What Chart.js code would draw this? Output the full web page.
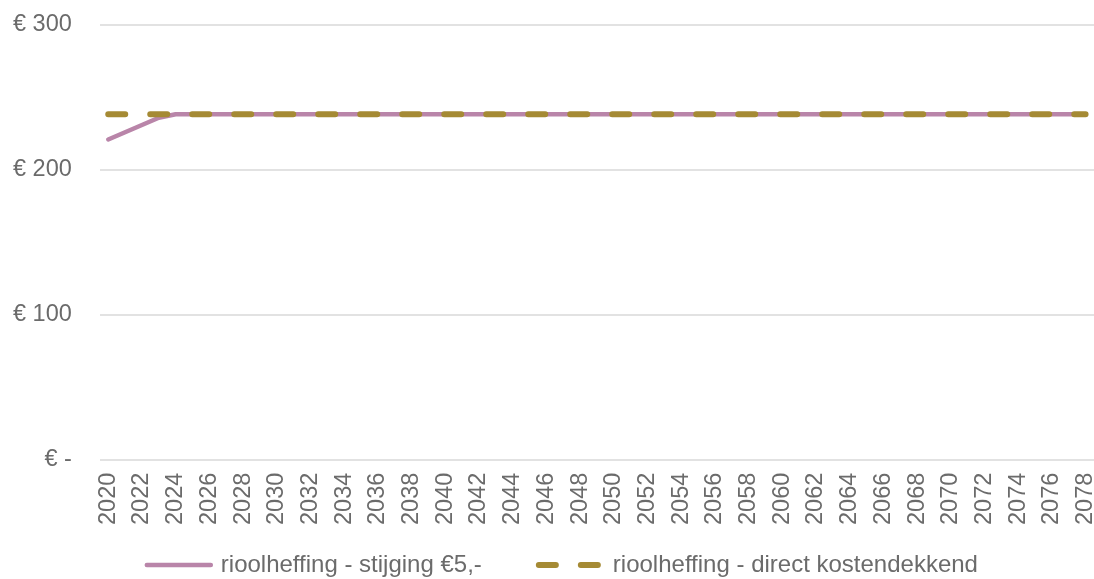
<!DOCTYPE html>
<html>
<head>
<meta charset="utf-8">
<title>Rioolheffing</title>
<script src="https://cdn.jsdelivr.net/npm/chart.js@4.4.1/dist/chart.umd.min.js"></script>
<style>
  html, body { margin: 0; padding: 0; background: #ffffff; }
  #wrap { width: 1094px; height: 579px; position: relative; }
</style>
</head>
<body>
<div id="wrap"><canvas id="chart"></canvas></div>
<script>
// Jaren op de categorie-as
const years = [
  '2020','2021','2022','2023','2024','2025','2026','2027','2028','2029',
  '2030','2031','2032','2033','2034','2035','2036','2037','2038','2039',
  '2040','2041','2042','2043','2044','2045','2046','2047','2048','2049',
  '2050','2051','2052','2053','2054','2055','2056','2057','2058','2059',
  '2060','2061','2062','2063','2064','2065','2066','2067','2068','2069',
  '2070','2071','2072','2073','2074','2075','2076','2077','2078'
];

// Rioolheffing (euro per jaar) bij een jaarlijkse stijging van €5,-
const stijging = [
  221, 226, 231, 236, 238.4, 238.4, 238.4, 238.4, 238.4, 238.4,
  238.4, 238.4, 238.4, 238.4, 238.4, 238.4, 238.4, 238.4, 238.4, 238.4,
  238.4, 238.4, 238.4, 238.4, 238.4, 238.4, 238.4, 238.4, 238.4, 238.4,
  238.4, 238.4, 238.4, 238.4, 238.4, 238.4, 238.4, 238.4, 238.4, 238.4,
  238.4, 238.4, 238.4, 238.4, 238.4, 238.4, 238.4, 238.4, 238.4, 238.4,
  238.4, 238.4, 238.4, 238.4, 238.4, 238.4, 238.4, 238.4, 238.4
];

// Rioolheffing (euro per jaar) wanneer direct kostendekkend
const kostendekkend = [
  238.4, 238.4, 238.4, 238.4, 238.4, 238.4, 238.4, 238.4, 238.4, 238.4,
  238.4, 238.4, 238.4, 238.4, 238.4, 238.4, 238.4, 238.4, 238.4, 238.4,
  238.4, 238.4, 238.4, 238.4, 238.4, 238.4, 238.4, 238.4, 238.4, 238.4,
  238.4, 238.4, 238.4, 238.4, 238.4, 238.4, 238.4, 238.4, 238.4, 238.4,
  238.4, 238.4, 238.4, 238.4, 238.4, 238.4, 238.4, 238.4, 238.4, 238.4,
  238.4, 238.4, 238.4, 238.4, 238.4, 238.4, 238.4, 238.4, 238.4
];

const seriesNames = ['rioolheffing - stijging €5,-', 'rioolheffing - direct kostendekkend'];

// Y-as: €0 t/m €300 in stappen van €100
const yMin = 0;
const yMax = 300;
const yStep = 100;

const textColor = '#6b6b6b';
const gridColor = '#e2e2e2';
const fontFamily = '"Liberation Sans", Arial, Helvetica, sans-serif';

// Legenda onder de grafiek met lijnvoorbeelden
const bottomLegend = {
  id: 'bottomLegend',
  afterDraw(chart) {
    const ctx = chart.ctx;
    const y = 565;
    const sampleLen = 64;
    const textGap = 10;
    const itemGap = 57;
    let x = chart.chartArea.left + 47;
    ctx.save();
    ctx.font = '24px ' + fontFamily;
    ctx.textBaseline = 'middle';
    ctx.textAlign = 'left';
    chart.data.datasets.forEach(ds => {
      ctx.save();
      ctx.strokeStyle = ds.borderColor;
      ctx.lineWidth = ds.borderWidth;
      ctx.lineCap = 'round';
      ctx.setLineDash(ds.borderDash || []);
      ctx.beginPath();
      ctx.moveTo(x, y);
      ctx.lineTo(x + sampleLen, y);
      ctx.stroke();
      ctx.restore();
      x += sampleLen + textGap;
      ctx.fillStyle = textColor;
      ctx.fillText(ds.label, x, y);
      x += ctx.measureText(ds.label).width + itemGap;
    });
    ctx.restore();
  }
};

new Chart(document.getElementById('chart'), {
  type: 'line',
  data: {
    labels: years,
    datasets: [
      {
        label: seriesNames[0],
        data: stijging,
        borderColor: '#b985a9',
        backgroundColor: '#b985a9',
        borderWidth: 4.5,
        borderCapStyle: 'round',
        borderJoinStyle: 'round',
        pointRadius: 0,
        tension: 0,
        order: 1
      },
      {
        label: seriesNames[1],
        data: kostendekkend,
        borderColor: '#a58a34',
        backgroundColor: '#a58a34',
        borderWidth: 6,
        borderDash: [17, 25],
        borderCapStyle: 'round',
        pointRadius: 0,
        tension: 0,
        order: 0
      }
    ]
  },
  options: {
    responsive: true,
    maintainAspectRatio: false,
    animation: false,
    layout: { padding: { top: 25, left: 13, right: 0, bottom: 54 } },
    plugins: {
      legend: { display: false },
      tooltip: { enabled: false }
    },
    scales: {
      x: {
        type: 'category',
        offset: true,
        grid: {
          display: true,
          color: 'rgba(0,0,0,0)',
          drawTicks: true,
          tickLength: 13,
          tickColor: 'rgba(0,0,0,0)'
        },
        border: { display: false },
        ticks: {
          autoSkip: false,
          maxRotation: 90,
          minRotation: 90,
          padding: 0,
          color: textColor,
          font: { family: fontFamily, size: 23.5, lineHeight: 0.35 },
          callback: function (value, index) {
            return index % 2 === 0 ? this.getLabelForValue(value) : '';
          }
        }
      },
      y: {
        min: yMin,
        max: yMax,
        grid: {
          color: gridColor,
          lineWidth: 2,
          drawTicks: true,
          tickLength: 28,
          tickColor: 'rgba(0,0,0,0)'
        },
        border: { display: false },
        ticks: {
          stepSize: yStep,
          padding: 0,
          color: textColor,
          font: { family: fontFamily, size: 23.5 },
          callback: v => (v === 0 ? '€ -' : '€ ' + v)
        }
      }
    }
  },
  plugins: [bottomLegend]
});
</script>
</body>
</html>
